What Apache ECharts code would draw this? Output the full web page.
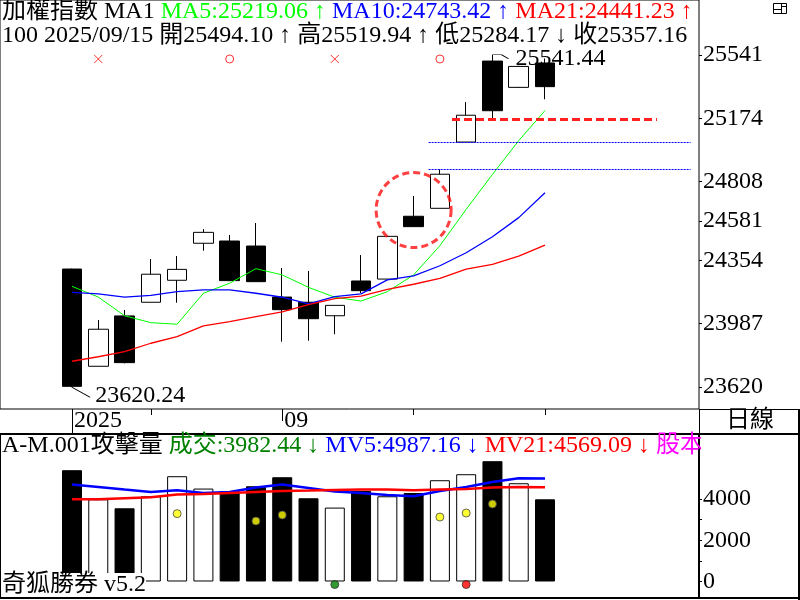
<!DOCTYPE html>
<html>
<head>
<meta charset="utf-8">
<script src="https://cdn.jsdelivr.net/npm/echarts@6/dist/echarts.min.js"></script>
<style>
  html, body { margin: 0; padding: 0; background: #fff; }
  #main { width: 800px; height: 600px; }
</style>
</head>
<body>
<div id="main"></div>
<script>
// 日K 資料
var dates = ['2025/08/20', '2025/08/21', '2025/08/22', '2025/08/25', '2025/08/26', '2025/08/27', '2025/08/28',
  '2025/08/29', '2025/09/01', '2025/09/02', '2025/09/03', '2025/09/04', '2025/09/05', '2025/09/08',
  '2025/09/09', '2025/09/10', '2025/09/11', '2025/09/12', '2025/09/15'];
var opens  = [24303, 23741, 24032, 24111, 24238, 24452, 24465, 24436, 24141, 24111, 24033, 24234, 24245, 24608, 24654, 25037, 25505, 25353, 25494.10];
var closes = [23625, 23955, 23762, 24273, 24301, 24515, 24236, 24230, 24068, 24016, 24093, 24178, 24492, 24548, 24851, 25192, 25218, 25474, 25357.16];
var lows   = [23620.24, 23741, 23758, 24111, 24108, 24409, 24233, 24228, 23883, 23889, 23926, 24164, 24243, 24546, 24654, 25037, 25170, 25350, 25284.17];
var highs  = [24305, 24008, 24066, 24361, 24378, 24534, 24500, 24569, 24309, 24292, 24093, 24384, 24495, 24725, 24879, 25268, 25541.44, 25478, 25519.94];

// 均線
var ma5  = [24203, 24141, 24033, 23993, 23984, 24163, 24221, 24305, 24269, 24197, 24140, 24118, 24172, 24269, 24438, 24648, 24850, 25045, 25219.06];
var ma10 = [24168, 24160, 24141, 24151, 24172, 24183, 24182, 24163, 24140, 24101, 24143, 24159, 24240, 24264, 24322, 24397, 24490, 24600, 24743.42];
var ma21 = [23770, 23796, 23825, 23874, 23912, 23974, 23999, 24028, 24056, 24097, 24132, 24147, 24186, 24215, 24249, 24303, 24330, 24378, 24441.23];

// 右側價格刻度 (黃金分割)
var priceTicks = [23620, 23987, 24354, 24581, 24808, 25174, 25541];

// 訊號 x / o
var crossIdx = [1, 10];
var ringIdx = [6, 14];
var signalLevel = 25517;

// 圈選 & 缺口線 & 壓力線
var focusIdx = 13;
var focusLevel = 24644;
var gapLevels = [24879, 25037];
var gapRange = [13.57, 23.54];
var resistLevel = 25168;
var resistRange = [14.46, 22.26];

// 成交量
var vols = [5395, 3985, 3548, 4131, 5103, 4505, 4374, 4617, 5054, 4034, 3582, 4389, 4131, 4291, 4909, 5200, 5832, 4763, 3982.44];
var mv5  = [4700, 4583, 4457, 4340, 4423, 4291, 4340, 4554, 4700, 4534, 4359, 4291, 4194, 4131, 4389, 4583, 4826, 5010, 4987.16];
var mv21 = [3985, 3985, 4034, 4082, 4214, 4243, 4291, 4340, 4389, 4408, 4437, 4457, 4457, 4423, 4457, 4486, 4560, 4575, 4569.09];
var volTicks = [0, 2000, 4000];
var volMinorTicks = [0, 1000, 2000, 3000, 4000];

// 攻擊量點
var yellowIdx = [4, 7, 8, 14, 15, 16];
var yellowVal = [3290, 2931, 3222, 3125, 3319, 3757];
var greenIdx = [10];
var redIdx = [15];
var dotLevel = -146;

var FONT = "'Liberation Serif', 'Noto Sans CJK TC', serif";
var xMin = -2.74, xMax = 23.86;

var chart = echarts.init(document.getElementById('main'));

function pairs(arr) {
  return arr.map(function (v, i) { return [i, v]; });
}
function arrow(arr) {
  var n = arr.length;
  return arr[n - 1] >= arr[n - 2] ? '↑' : '↓';
}
function f2(v) { return v.toFixed(2); }

var last = dates.length - 1;
var candleData = dates.map(function (d, i) {
  return [i, opens[i], closes[i], lows[i], highs[i]];
});
var hiIdx = highs.indexOf(Math.max.apply(null, highs));
var loIdx = lows.indexOf(Math.min.apply(null, lows));

var line1 = '{k|加權指數 MA1 }' +
  '{g|MA5:' + f2(ma5[last]) + ' ' + arrow(ma5) + ' }' +
  '{b|MA10:' + f2(ma10[last]) + ' ' + arrow(ma10) + ' }' +
  '{r|MA21:' + f2(ma21[last]) + ' ' + arrow(ma21) + '}';
var line2 = '{k|100 ' + dates[last] + ' 開' + f2(opens[last]) + ' ' + arrow(opens) +
  ' 高' + f2(highs[last]) + ' ' + arrow(highs) +
  ' 低' + f2(lows[last]) + ' ' + arrow(lows) +
  ' 收' + f2(closes[last]) + '}';
var volLine = '{k|A-M.001攻擊量 }' +
  '{dg|成交:' + f2(vols[last]) + ' ' + arrow(vols) + ' }' +
  '{b|MV5:' + f2(mv5[last]) + ' ' + arrow(mv5) + ' }' +
  '{r|MV21:' + f2(mv21[last]) + ' ' + arrow(mv21) + ' }' +
  '{m|股本}';

function txt(color) {
  return { color: color, fontSize: 24, fontFamily: FONT, fontWeight: 'normal', lineHeight: 24 };
}
var rich = {
  k: txt('#000'),
  g: txt('#00ff00'),
  dg: txt('#008000'),
  b: txt('#0000ff'),
  r: txt('#ff0000'),
  m: txt('#ff00ff')
};

function titleAt(text, top, bg) {
  return {
    text: text, left: 2, top: top, padding: 0, backgroundColor: bg || 'transparent',
    textStyle: { rich: rich, fontSize: 24, fontWeight: 'normal', fontFamily: FONT }
  };
}

function xTickAxis(ticks, len, labels) {
  return {
    gridIndex: 0, type: 'value', position: 'bottom', min: xMin, max: xMax,
    splitLine: { show: false }, axisLine: { show: false, onZero: false },
    axisTick: { show: true, customValues: ticks, length: len, lineStyle: { color: '#000', width: 1 } },
    axisLabel: labels ? {
      show: true, customValues: labels, margin: 0, align: 'left', verticalAlign: 'top',
      lineHeight: 24, padding: [0, 0, 0, 2], color: '#000', fontSize: 24, fontFamily: FONT,
      formatter: function (v) {
        var d = dates[Math.round(v)];
        return Math.round(v) === 0 ? d.slice(0, 4) : d.slice(5, 7);
      }
    } : { show: false }
  };
}

function plain(v) { return String(Math.round(v)); }

var option = {
  animation: false,
  backgroundColor: '#fff',
  title: [
    titleAt(line1, 0),
    titleAt(line2, 24),
    titleAt(volLine, 434),
    titleAt('{k|奇狐勝券 v5.2}', 573, '#fff')
  ],
  grid: [
    { left: 0, top: 0, width: 699, height: 409, show: true, borderColor: '#000', borderWidth: 1, backgroundColor: 'transparent' },
    { left: 0, top: 434, width: 699, height: 164, show: true, borderColor: '#000', borderWidth: 2, backgroundColor: 'transparent' }
  ],
  xAxis: [
    xTickAxis([3, 13, 18], 6, [0, 8]),
    xTickAxis([8], 12, null),
    xTickAxis([0], 24, null),
    {
      gridIndex: 1, type: 'value', min: xMin, max: xMax, show: false,
      axisLine: { onZero: false }
    }
  ],
  yAxis: [
    {
      gridIndex: 0, type: 'value', position: 'right', min: 23494, max: 25858,
      splitLine: { show: false }, axisLine: { show: false, onZero: false },
      axisTick: { show: true, length: 3, customValues: priceTicks, lineStyle: { color: '#000' } },
      axisLabel: { customValues: priceTicks, margin: 4, color: '#000', fontSize: 24, fontFamily: FONT, formatter: plain }
    },
    {
      gridIndex: 1, type: 'value', position: 'right', min: -800, max: 7150,
      splitLine: { show: false }, axisLine: { show: false, onZero: false },
      axisTick: { show: true, length: 3, customValues: volMinorTicks, lineStyle: { color: '#000' } },
      axisLabel: { customValues: volTicks, margin: 4, color: '#000', fontSize: 24, fontFamily: FONT, formatter: plain }
    }
  ],
  series: [
    {
      type: 'candlestick', xAxisIndex: 0, yAxisIndex: 0,
      barWidth: 20,
      dimensions: ['idx', 'open', 'close', 'lowest', 'highest'],
      encode: { x: 'idx', y: ['open', 'close', 'lowest', 'highest'] },
      data: candleData,
      itemStyle: { color: '#fff', color0: '#000', borderColor: '#000', borderColor0: '#000', borderWidth: 1 },
      markLine: {
        silent: true, symbol: 'none', label: { show: false },
        data: [
          [{ coord: [gapRange[0], gapLevels[0]], lineStyle: { color: '#0000ff', width: 1, type: [2, 1] } }, { coord: [gapRange[1], gapLevels[0]] }],
          [{ coord: [gapRange[0], gapLevels[1]], lineStyle: { color: '#0000ff', width: 1, type: [2, 1] } }, { coord: [gapRange[1], gapLevels[1]] }],
          [{ coord: [resistRange[0], resistLevel], lineStyle: { color: '#ff2020', width: 3, type: [8, 4] } }, { coord: [resistRange[1], resistLevel] }]
        ]
      },
      markPoint: {
        silent: true,
        itemStyle: { color: 'none', borderColor: '#000', borderWidth: 1 },
        label: {
          color: '#000', fontSize: 24, fontFamily: FONT, position: 'right', distance: 2,
          formatter: function (p) { return f2(p.value); }
        },
        data: [
          { coord: [hiIdx, highs[hiIdx]], value: highs[hiIdx], symbol: 'path://M0,0L9,0L16,4', symbolSize: [16, 4], symbolOffset: [8, 2], label: { offset: [0, 2] } },
          { coord: [loIdx, lows[loIdx]], value: lows[loIdx], symbol: 'path://M0,0L18,10', symbolSize: [18, 10], symbolOffset: [9, 5], label: { offset: [0, 4] } }
        ]
      }
    },
    {
      name: 'MA5', type: 'line', xAxisIndex: 0, yAxisIndex: 0, data: pairs(ma5),
      showSymbol: false, silent: true, lineStyle: { color: '#00ff00', width: 1 }
    },
    {
      name: 'MA10', type: 'line', xAxisIndex: 0, yAxisIndex: 0, data: pairs(ma10),
      showSymbol: false, silent: true, lineStyle: { color: '#0000ff', width: 1.3 }
    },
    {
      name: 'MA21', type: 'line', xAxisIndex: 0, yAxisIndex: 0, data: pairs(ma21),
      showSymbol: false, silent: true, lineStyle: { color: '#ff0000', width: 1.3 }
    },
    {
      type: 'scatter', xAxisIndex: 0, yAxisIndex: 0, silent: true,
      data: crossIdx.map(function (i) { return [i, signalLevel]; }),
      symbol: 'path://M0,0L8,8M8,0L0,8', symbolSize: 8,
      itemStyle: { color: 'none', borderColor: '#ff0000', borderWidth: 1 }
    },
    {
      type: 'scatter', xAxisIndex: 0, yAxisIndex: 0, silent: true,
      data: ringIdx.map(function (i) { return [i, signalLevel]; }),
      symbol: 'circle', symbolSize: 8,
      itemStyle: { color: 'none', borderColor: '#ff0000', borderWidth: 1 }
    },
    {
      type: 'scatter', xAxisIndex: 0, yAxisIndex: 0, silent: true, z: 5,
      data: [[focusIdx, focusLevel]],
      symbol: 'circle', symbolSize: 75,
      itemStyle: { color: 'none', borderColor: '#ff1010', borderWidth: 3, borderType: [7, 4] }
    },
    {
      type: 'bar', xAxisIndex: 3, yAxisIndex: 1, barWidth: 20, silent: true,
      data: vols.map(function (v, i) {
        return { value: [i, v], itemStyle: { color: closes[i] > opens[i] ? '#fff' : '#000' } };
      }),
      itemStyle: { borderColor: '#000', borderWidth: 1 }
    },
    {
      name: 'MV5', type: 'line', xAxisIndex: 3, yAxisIndex: 1, data: pairs(mv5),
      showSymbol: false, silent: true, lineStyle: { color: '#0000ff', width: 2.5 }
    },
    {
      name: 'MV21', type: 'line', xAxisIndex: 3, yAxisIndex: 1, data: pairs(mv21),
      showSymbol: false, silent: true, lineStyle: { color: '#ff0000', width: 2.5 }
    },
    {
      type: 'scatter', xAxisIndex: 3, yAxisIndex: 1, silent: true, z: 4,
      data: yellowIdx.map(function (i, k) { return [i, yellowVal[k]]; }),
      symbol: 'circle', symbolSize: 8,
      itemStyle: { color: '#ffff00', borderColor: '#444', borderWidth: 1 }
    },
    {
      type: 'scatter', xAxisIndex: 3, yAxisIndex: 1, silent: true, z: 4,
      data: greenIdx.map(function (i) { return [i, dotLevel]; }),
      symbol: 'circle', symbolSize: 8,
      itemStyle: { color: '#008000', borderColor: '#333', borderWidth: 1 }
    },
    {
      type: 'scatter', xAxisIndex: 3, yAxisIndex: 1, silent: true, z: 4,
      data: redIdx.map(function (i) { return [i, dotLevel]; }),
      symbol: 'circle', symbolSize: 8,
      itemStyle: { color: '#ff0000', borderColor: '#333', borderWidth: 1 }
    }
  ],
  graphic: [
    // 右側面板遮住溢出的文字
    { type: 'rect', z: 10, shape: { x: 701, y: 436, width: 96, height: 26 }, style: { fill: '#fff' } },
    { type: 'line', shape: { x1: 699, y1: 409.5, x2: 800, y2: 409.5 }, style: { stroke: '#000', lineWidth: 1 } },
    { type: 'line', shape: { x1: 699, y1: 434, x2: 800, y2: 434 }, style: { stroke: '#000', lineWidth: 2 } },
    { type: 'line', shape: { x1: 699, y1: 598, x2: 800, y2: 598 }, style: { stroke: '#000', lineWidth: 2 } },
    { type: 'line', shape: { x1: 799, y1: 409, x2: 799, y2: 600 }, style: { stroke: '#000', lineWidth: 2 } },
    { type: 'line', shape: { x1: 699.5, y1: 409, x2: 699.5, y2: 434 }, style: { stroke: '#000', lineWidth: 1 } },
    {
      type: 'text', x: 750, y: 421,
      style: { text: '日線', fill: '#000', font: '24px ' + FONT, align: 'center', verticalAlign: 'middle' }
    },
    {
      type: 'group', left: 771, top: 1,
      children: [
        { type: 'rect', shape: { x: 0, y: 0, width: 13, height: 10 }, style: { fill: '#fff', stroke: '#000', lineWidth: 1 } },
        { type: 'line', shape: { x1: 0, y1: 6, x2: 8, y2: 6 }, style: { stroke: '#000', lineWidth: 1 } },
        { type: 'line', shape: { x1: 8, y1: 0, x2: 8, y2: 10 }, style: { stroke: '#000', lineWidth: 1 } },
        { type: 'line', shape: { x1: 8, y1: 3, x2: 13, y2: 3 }, style: { stroke: '#000', lineWidth: 1 } }
      ]
    }
  ]
};

chart.setOption(option);
</script>
</body>
</html>
